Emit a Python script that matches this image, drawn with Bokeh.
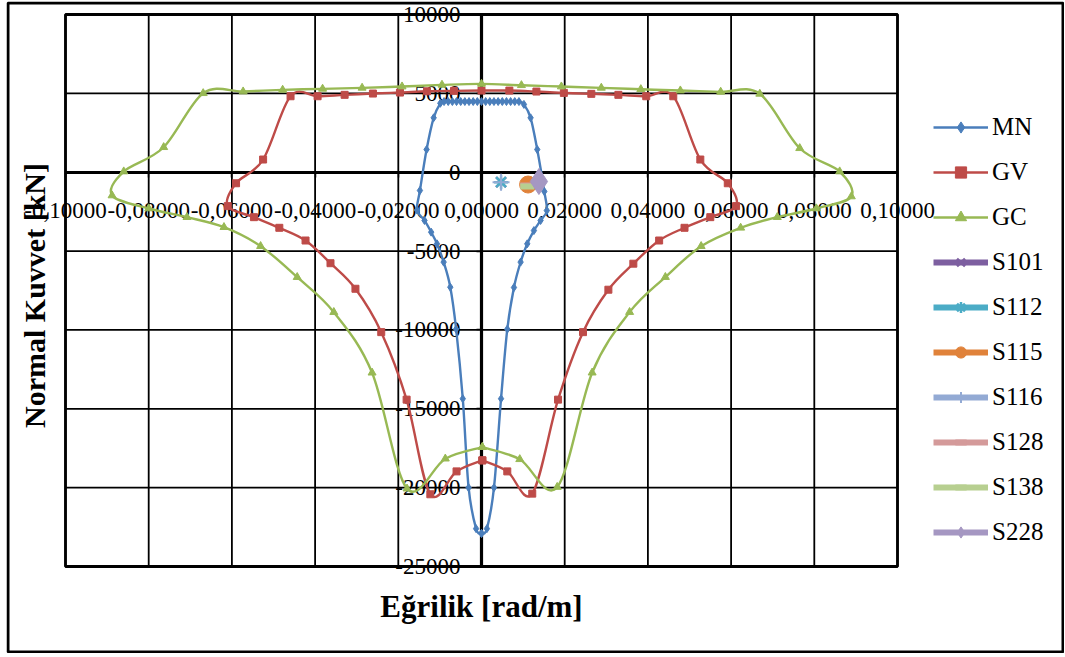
from math import pi
from bokeh.plotting import figure
from bokeh.models import (LinearAxis, FixedTicker, Legend, LegendItem, Label,
                          Range1d, CustomJSTickFormatter, ColumnDataSource)
from bokeh.embed import file_html
from bokeh.resources import INLINE

# ---------------- data ----------------
X_TICKS = [-0.10, -0.08, -0.06, -0.04, -0.02, 0.0, 0.02, 0.04, 0.06, 0.08, 0.10]
Y_TICKS = [-25000, -20000, -15000, -10000, -5000, 0, 5000, 10000]
X_TITLE = "Eğrilik [rad/m]"
Y_TITLE = "Normal Kuvvet [kN]"

MN_X = [0.0000, 0.0013, 0.0030, 0.0047, 0.0062, 0.0078, 0.0094, 0.0110, 0.0126, 0.0142,
        0.0157, 0.0151, 0.0134, 0.0118, 0.0102,
        0.0090, 0.0080, 0.0070, 0.0060, 0.0050, 0.0040, 0.0030, 0.0020, 0.0010, 0.0000,
        -0.0010, -0.0020, -0.0030, -0.0040, -0.0050, -0.0060, -0.0070, -0.0080, -0.0090,
        -0.0099, -0.0115, -0.0132, -0.0148, -0.0155, -0.0137, -0.0121, -0.0107, -0.0091,
        -0.0075, -0.0061, -0.0045, -0.0031, -0.0013, 0.0000]
MN_Y = [-22900, -22600, -20000, -14360, -9950, -7310, -5700, -4540, -3700, -3060,
        -2430, -1220, 1440, 3450, 4300,
        4480, 4480, 4480, 4480, 4480, 4480, 4480, 4480, 4480, 4480,
        4480, 4480, 4480, 4480, 4480, 4480, 4480, 4480, 4480,
        4370, 3450, 1440, -1160, -2400, -3060, -3800, -4540, -5700,
        -7290, -9950, -14360, -20000, -22600, -22900]

GV_X = [0.0002, 0.0062, 0.0122, 0.0184, 0.0244, 0.0305, 0.0365, 0.0427, 0.0488, 0.0550,
        0.0612, 0.0592, 0.0526, 0.0461, 0.0396, 0.0329, 0.0264, 0.0198, 0.0132, 0.0067,
        0.0000, -0.0066, -0.0131, -0.0196, -0.0261, -0.0329, -0.0394, -0.0459, -0.0525,
        -0.0590, -0.0610, -0.0547, -0.0486, -0.0423, -0.0363, -0.0303, -0.0241, -0.0180,
        -0.0123, -0.0060, 0.0002]
GV_Y = [-18270, -18970, -20380, -14420, -10140, -7450, -5800, -4330, -3525, -2850,
        -2150, -700, 805, 4816, 4816, 4905, 4968, 5030, 5114, 5177,
        5177, 5160, 5130, 5050, 4987, 4905, 4816, 4816, 805,
        -700, -2150, -2850, -3525, -4330, -5770, -7390, -10140, -14420,
        -20420, -18970, -18270]

GC_X = [0.0002, 0.0092, 0.0182, 0.0266, 0.0356, 0.0442, 0.0528, 0.0623, 0.0711, 0.0805,
        0.0889, 0.0861, 0.0765, 0.0669, 0.0575, 0.0478, 0.0383, 0.0288, 0.0192, 0.0096,
        0.0000, -0.0095, -0.0191, -0.0287, -0.0382, -0.0478, -0.0573, -0.0669, -0.0764,
        -0.0860, -0.0888, -0.0800, -0.0708, -0.0619, -0.0531, -0.0443, -0.0355, -0.0263,
        -0.0179, -0.0087, 0.0002]
GC_Y = [-17430, -18200, -19960, -12710, -8870, -6650, -4690, -3525, -2850, -2300,
        -1540, 44, 1520, 4968, 5095, 5177, 5260, 5349, 5431, 5513,
        5602, 5539, 5431, 5349, 5285, 5222, 5114, 5007, 1584,
        44, -1476, -2300, -2851, -3485, -4689, -6654, -8872, -12713,
        -20063, -18164, -17430]

S101_X, S101_Y = [0.0047], [-630]
S112_X, S112_Y = [0.0047], [-630]
S115_X, S115_Y = [0.0112], [-780]
S116_X, S116_Y = [0.0047], [-630]
S128_X, S128_Y = [0.0110], [-850]
S138_X, S138_Y = [0.0110], [-900]
S228_X, S228_Y = [0.0138], [-590]

FONT = "Liberation Serif"

# ---------------- layout (pixels -> view ranges) ----------------
W, H = 1058, 652
PX_X = (X_TICKS[-1] - X_TICKS[0]) / 832.0     # data units per pixel
PX_Y = (Y_TICKS[-1] - Y_TICKS[0]) / 552.0
X_START = X_TICKS[0] - 59 * PX_X
X_END = X_TICKS[-1] + 167 * PX_X
Y_TOP = Y_TICKS[-1] + 13 * PX_Y
Y_BOTTOM = Y_TICKS[0] - 87 * PX_Y


def smooth(xs, ys):
    """Excel-like smoothed line: Catmull-Rom segments as cubic Beziers."""
    n = len(xs)
    out = dict(x0=[], y0=[], x1=[], y1=[], cx0=[], cy0=[], cx1=[], cy1=[])
    for i in range(n - 1):
        ia = max(i - 1, 0)
        ib = min(i + 2, n - 1)
        out["x0"].append(xs[i]); out["y0"].append(ys[i])
        out["x1"].append(xs[i + 1]); out["y1"].append(ys[i + 1])
        out["cx0"].append(xs[i] + (xs[i + 1] - xs[ia]) / 6.0)
        out["cy0"].append(ys[i] + (ys[i + 1] - ys[ia]) / 6.0)
        out["cx1"].append(xs[i + 1] - (xs[ib] - xs[i]) / 6.0)
        out["cy1"].append(ys[i + 1] - (ys[ib] - ys[i]) / 6.0)
    return ColumnDataSource(out)


p = figure(width=W, height=H,
           x_range=Range1d(X_START, X_END), y_range=Range1d(Y_BOTTOM, Y_TOP),
           x_axis_type=None, y_axis_type=None,
           output_backend="svg", toolbar_location=None,
           min_border=0, min_border_left=0, min_border_right=0,
           min_border_top=0, min_border_bottom=0,
           outline_line_color=None)
p.background_fill_color = "white"
p.border_fill_color = "white"
p.styles = {"margin-left": "6px", "margin-top": "1px"}

# outer chart-area border (at the canvas edge)
p.quad(left=[X_START + 1.5 * PX_X], right=[X_END - 1.5 * PX_X],
       bottom=[Y_BOTTOM + 1.5 * PX_Y], top=[Y_TOP - 1.5 * PX_Y],
       fill_color=None, line_color="black", line_width=3)

# grid lines inside the plot box
p.segment(x0=X_TICKS, x1=X_TICKS, y0=[Y_TICKS[0]] * len(X_TICKS), y1=[Y_TICKS[-1]] * len(X_TICKS),
          line_color="black", line_width=1.8)
p.segment(x0=[X_TICKS[0]] * len(Y_TICKS), x1=[X_TICKS[-1]] * len(Y_TICKS), y0=Y_TICKS, y1=Y_TICKS,
          line_color="black", line_width=1.8)
p.quad(left=[X_TICKS[0]], right=[X_TICKS[-1]], bottom=[Y_TICKS[0]], top=[Y_TICKS[-1]],
       fill_color=None, line_color="black", line_width=2.8)

# axes crossing at zero
xa = LinearAxis(fixed_location=0, bounds=(X_TICKS[0], X_TICKS[-1]),
                ticker=FixedTicker(ticks=X_TICKS, minor_ticks=[]),
                formatter=CustomJSTickFormatter(code="return tick.toFixed(5).replace('.', ',');"),
                axis_line_color="black", axis_line_width=3.2,
                major_tick_out=5, major_tick_in=0, minor_tick_out=0, minor_tick_in=0,
                major_tick_line_width=1.5,
                major_label_text_font=FONT, major_label_text_font_size="23px",
                major_label_text_color="black", major_label_standoff=26)
xa.level = "underlay"
p.add_layout(xa, "below")
ya = LinearAxis(fixed_location=0, bounds=(Y_TICKS[0], Y_TICKS[-1]),
                ticker=FixedTicker(ticks=Y_TICKS, minor_ticks=[]),
                formatter=CustomJSTickFormatter(code="return tick.toFixed(0);"),
                axis_line_color="black", axis_line_width=3.2,
                major_tick_out=5, major_tick_in=0, minor_tick_out=0, minor_tick_in=0,
                major_tick_line_width=1.5,
                major_label_text_font=FONT, major_label_text_font_size="23px",
                major_label_text_color="black", major_label_standoff=16)
ya.level = "underlay"
p.add_layout(ya, "left")

# axis titles
p.add_layout(Label(x=0.0, y=Y_TICKS[0] - 40 * PX_Y, text=X_TITLE,
                   text_font=FONT, text_font_style="bold", text_font_size="31px",
                   text_align="center", text_baseline="alphabetic", text_color="black"))
p.add_layout(Label(x=X_TICKS[0] - 31 * PX_X, y=(Y_TICKS[0] + Y_TICKS[-1]) / 2 - 5 * PX_Y,
                   text=Y_TITLE, angle=pi / 2,
                   text_font=FONT, text_font_style="bold", text_font_size="30px",
                   text_align="center", text_baseline="alphabetic", text_color="black"))

# main series
series = [
    ("MN", MN_X, MN_Y, "#4A7EBB", "diamond", 8),
    ("GV", GV_X, GV_Y, "#BE4B48", "square", 7),
    ("GC", GC_X, GC_Y, "#98B954", "triangle", 8),
]
items = []
for name, xs, ys, col, mk, sz in series:
    lr = p.bezier(x0="x0", y0="y0", x1="x1", y1="y1", cx0="cx0", cy0="cy0",
                  cx1="cx1", cy1="cy1", source=smooth(xs, ys), line_color=col, line_width=2.4)
    sr = p.scatter(xs, ys, marker=mk, size=sz, fill_color=col, line_color=col)
    items.append(LegendItem(label=name, renderers=[lr, sr]))

# single-point series
singles = [
    ("S101", S101_X, S101_Y, "#7D5FA0", "x", 14, 2.5),
    ("S112", S112_X, S112_Y, "#4BACC6", "asterisk", 14, 2.5),
    ("S115", S115_X, S115_Y, "#E0823A", "circle", 17, 1),
    ("S116", S116_X, S116_Y, "#93AAD4", "cross", 17, 2),
    ("S128", S128_X, S128_Y, "#D49A9A", "dash", 14, 6),
    ("S138", S138_X, S138_Y, "#B7CF90", "dash", 14, 6),
    ("S228", S228_X, S228_Y, "#A597C2", "diamond", 26, 1),
]
for name, xs, ys, col, mk, sz, lw in singles:
    lr = p.line(xs, ys, line_color=col, line_width=6)
    sr = p.scatter(xs, ys, marker=mk, size=sz, fill_color=col, line_color=col, line_width=lw)
    items.append(LegendItem(label=name, renderers=[lr, sr]))

legend = Legend(items=items, location=(927, 107),
                label_text_font=FONT, label_text_font_size="25px", label_text_color="black",
                glyph_width=55, glyph_height=28, label_height=28, spacing=17,
                padding=0, margin=0, label_standoff=4,
                border_line_color=None, background_fill_alpha=0)
p.add_layout(legend, "center")

open("out.html", "w").write(file_html(p, INLINE))
